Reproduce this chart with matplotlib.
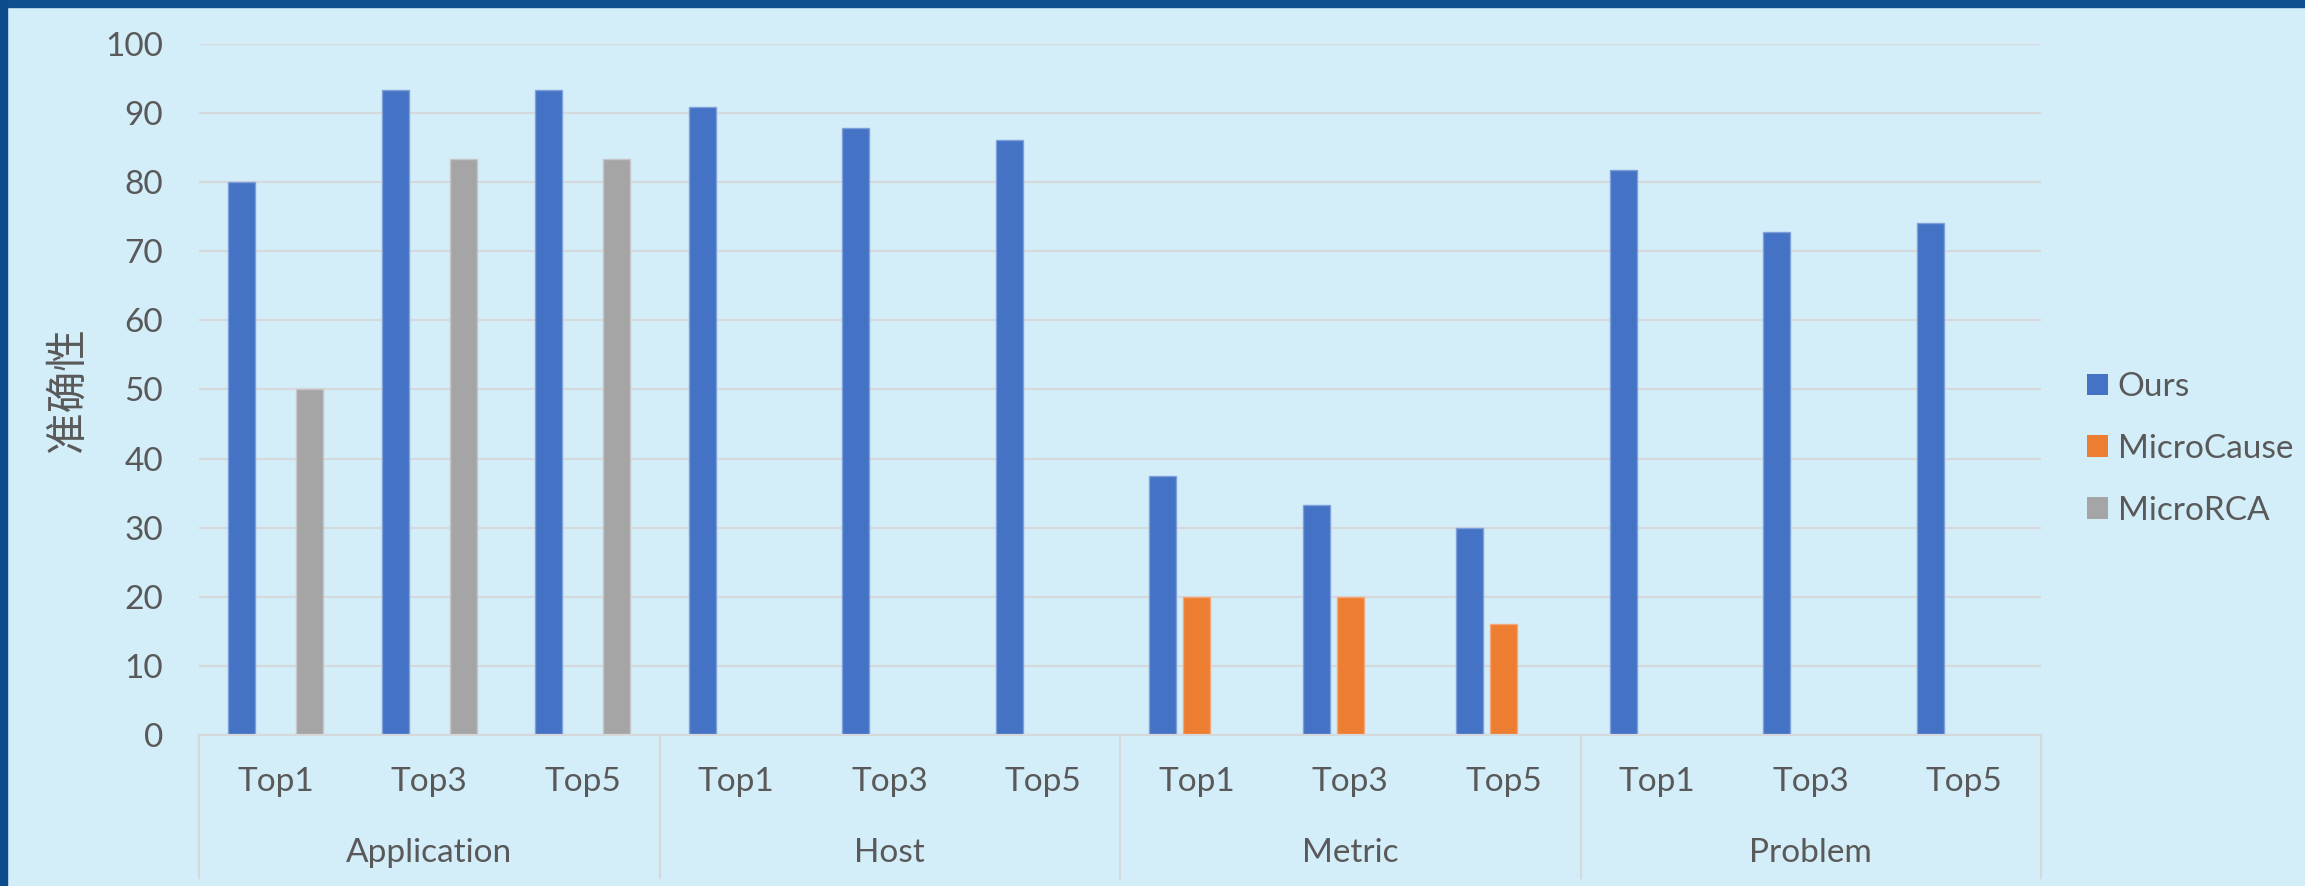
import numpy as np
import matplotlib.pyplot as plt
from matplotlib.patches import Rectangle
from matplotlib.lines import Line2D

groups = ['Application', 'Host', 'Metric', 'Problem']
tops = ['Top1', 'Top3', 'Top5']
series = ['Ours', 'MicroCause', 'MicroRCA']
ours = [80, 93.3, 93.3, 90.9, 87.8, 86.1, 37.5, 33.3, 30, 81.8, 72.8, 74.1]
microcause = [0, 0, 0, 0, 0, 0, 20, 20, 16, 0, 0, 0]
microrca = [50, 83.3, 83.3, 0, 0, 0, 0, 0, 0, 0, 0, 0]
colors = ['#4472C4', '#ED7D31', '#A5A5A5']
edges = ['#7E9FDA', '#F3A77A', '#C6C6C6']

bg = '#D3EEF9'
txt = '#595959'
grid = '#D6D9DC'

W, H = 2305, 886
fig = plt.figure(figsize=(W / 100, H / 100), dpi=100, facecolor=bg)
ax = fig.add_axes([199 / W, 1 - 735 / H, (2041 - 199) / W, (735 - 44) / H])
ax.set_facecolor(bg)

n = len(ours)
x = np.arange(n)
bw = 0.176
off = 0.222
for i, vals in enumerate([ours, microcause, microrca]):
    ax.bar(x + (i - 1) * off, vals, width=bw, color=colors[i],
           edgecolor=edges[i], linewidth=1, label=series[i], zorder=3)

ax.set_xlim(-0.5, n - 0.5)
ax.set_ylim(0, 100)
ax.set_yticks(range(0, 101, 10))
ax.yaxis.grid(True, color=grid, linewidth=1.6, zorder=0)
ax.set_axisbelow(True)
for s in ax.spines.values():
    s.set_visible(False)
ax.tick_params(axis='y', length=0, pad=26, labelsize=24, labelcolor=txt)
ax.tick_params(axis='x', length=0, labelbottom=False)
for lab in ax.get_yticklabels():
    lab.set_fontfamily('Lato')

# category axis: base line, separators, two rows of labels
tr = ax.get_xaxis_transform()
ax.plot([-0.5, n - 0.5], [0, 0], transform=tr, color=grid, lw=1.6,
        clip_on=False, zorder=4)
yb = -(878 - 735) / (735 - 44)
for b in [-0.5, 2.5, 5.5, 8.5, 11.5]:
    ax.add_line(Line2D([b, b], [0, yb], transform=tr, color=grid, lw=1.6,
                       clip_on=False))
y1 = -(782 - 735) / (735 - 44)
y2 = -(853 - 735) / (735 - 44)
for i in range(n):
    ax.text(i, y1, tops[i % 3], transform=tr, ha='center', va='center',
            fontsize=24, color=txt, family='Lato')
for g, name in enumerate(groups):
    ax.text(g * 3 + 1, y2, name, transform=tr, ha='center', va='center',
            fontsize=24, color=txt, family='Lato')

fig.text(68 / W, 1 - 390 / H, '准确性', rotation=90, ha='center', va='center',
         fontsize=30, color=txt, family=['Noto Sans CJK SC', 'DejaVu Sans'])

leg = ax.legend(loc='center left', bbox_to_anchor=(2087 / W, 1 - 449 / H),
                bbox_transform=fig.transFigure, frameon=False, borderpad=0,
                borderaxespad=0, handlelength=0.62, handleheight=0.62,
                handletextpad=0.3, labelspacing=0.95,
                prop={'family': 'Lato', 'size': 24})
for t in leg.get_texts():
    t.set_color(txt)
for h in leg.legend_handles:
    h.set_edgecolor('none')

# dark blue frame on top and left
fig.patches.append(Rectangle((0, 1 - 7 / H), 1, 7 / H, transform=fig.transFigure,
                             color='#0E4F8F', zorder=10))
fig.patches.append(Rectangle((0, 0), 7 / W, 1, transform=fig.transFigure,
                             color='#0C4C8C', zorder=10))

fig.savefig('out.png', dpi=100, facecolor=bg)
